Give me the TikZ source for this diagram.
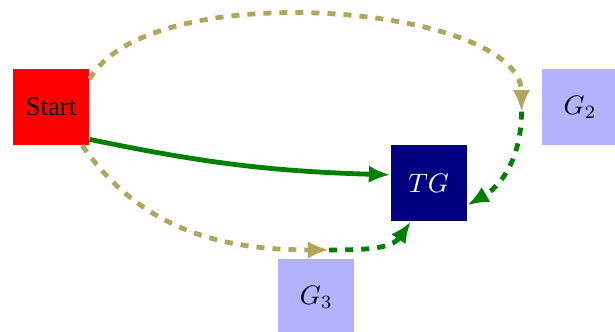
\documentclass[tikz,border=0pt]{standalone}
\usepackage{fontspec}
\setmainfont{Liberation Serif}
\usepackage{amsmath}
\usetikzlibrary{arrows.meta}

\definecolor{khaki}{RGB}{176,166,92}
\definecolor{darkgreen}{RGB}{0,128,0}
\definecolor{navyblue}{RGB}{0,0,128}

\begin{document}
\begin{tikzpicture}[>={Latex[length=8pt,width=6.5pt]}]

% Styles
\tikzset{
  box/.style={minimum size=1cm, inner sep=0pt},
  startbox/.style={box, fill=red},
  targetbox/.style={box, fill=navyblue, text=white},
  goalbox/.style={box, fill=blue!30},
  detour/.style={line width=1.8pt, dashed, khaki, ->},
  shortcut/.style={line width=1.8pt, dashed, darkgreen, ->},
  direct/.style={line width=1.8pt, darkgreen, ->}
}

% Frame
\useasboundingbox (-0.671,-2.947) rectangle (7.42,1.408);

% Boxes
\node[startbox] (S) at (0,0) {Start};
\node[targetbox] (TG) at (4.97,-1) {$TG$};
\node[goalbox] (G2) at (6.96,0) {$G_2$};
\node[goalbox] (G3) at (3.49,-2.5) {$G_3$};

% Turning points
\coordinate (w2) at (6.19,-0.06);  % left of G2
\coordinate (w3) at (3.66,-1.88);  % above G3

% Direct path
\draw[direct] (S.-40) to[bend right=5] (TG.168);

% Upper detour via G2
\draw[detour] (S.36) to[out=60, in=90, out distance=1.6cm, in distance=1.4cm] (w2);
\draw[shortcut] (w2) to[out=-90, in=30] (TG.-30);

% Lower detour via G3
\draw[detour] (S.-51) to[out=-55, in=180] (w3);
\draw[shortcut] (w3) to[out=0, in=235] (TG.245);

\end{tikzpicture}
\end{document}
